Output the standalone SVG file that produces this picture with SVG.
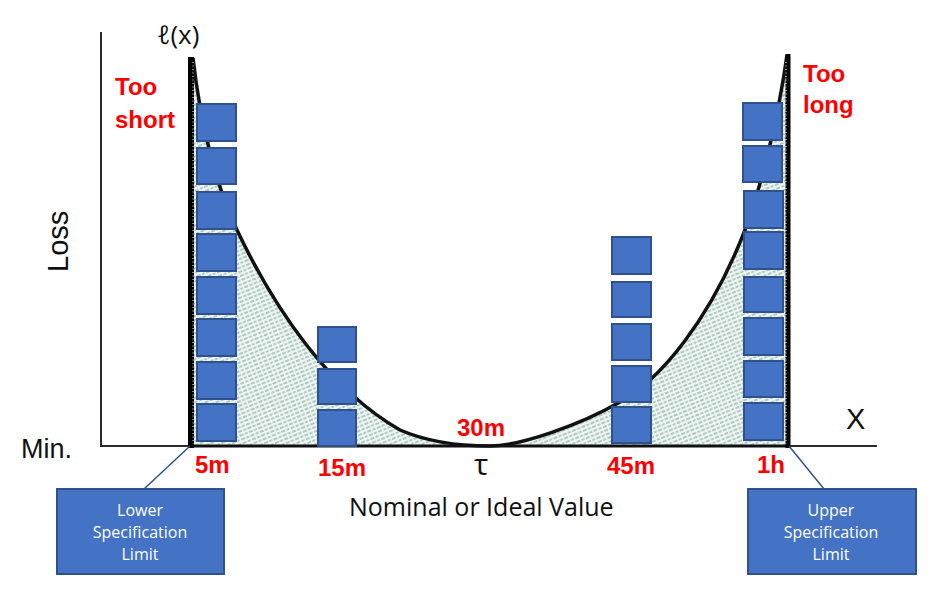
<svg xmlns="http://www.w3.org/2000/svg" width="938" height="594" viewBox="0 0 938 594">
  <defs>
    <pattern id="hatch" patternUnits="userSpaceOnUse" width="10" height="4" patternTransform="rotate(-22)">
      <rect width="10" height="4" fill="#eef5f2"/>
      <line x1="0" y1="2" x2="10" y2="2" stroke="#6f9e8c" stroke-width="1.2" stroke-dasharray="3 1.5"/>
    </pattern>
    <style>
      .box { fill: #4472C4; stroke: #2F528F; stroke-width: 2; }
      .red { font-family: "Liberation Sans", Arial, sans-serif; font-weight: bold; font-size: 24px; fill: #FF0000; }
      .blk { font-family: "Liberation Sans", Arial, sans-serif; fill: #111; }
      .cal { font-family: "Open Sans", "Liberation Sans", sans-serif; fill: #111; }
      .wt { font-family: "Open Sans", "Liberation Sans", sans-serif; font-size: 16px; fill: #ffffff; text-anchor: middle; }
      .axis { stroke: #2a2a2a; stroke-width: 2; fill: none; }
      .conn { stroke: #2F528F; stroke-width: 1.5; fill: none; }
    </style>
  </defs>
  <rect width="938" height="594" fill="#ffffff"/>

  <!-- loss area under curve -->
  <g id="loss-area">
    <path d="M191,58 L193,58 C200,120 215,184 237,230 C275,310 330,390 400,430 C430,443 460,446 490,446 C520,446 580,425 620,402 C660,380 710,320 745,230 C760,190 778,120 787,55 L788,446 L191,446 Z" fill="url(#hatch)" stroke="none"/>
    <path d="M193,58 C200,120 215,184 237,230 C275,310 330,390 400,430 C430,443 460,446 490,446 C520,446 580,425 620,402 C660,380 710,320 745,230 C760,190 778,120 787,55" fill="none" stroke="#111" stroke-width="3.5"/>
  </g>

  <!-- axes -->
  <g id="axes">
    <line class="axis" x1="101" y1="32" x2="101" y2="447"/>
    <line class="axis" x1="100" y1="446" x2="877" y2="446"/>
    <line x1="191" y1="446" x2="788" y2="446" stroke="#111" stroke-width="3"/>
    <line x1="191" y1="57" x2="191" y2="448" stroke="#000" stroke-width="6"/>
    <line x1="193" y1="62" x2="193" y2="444" stroke="#fff" stroke-width="1" stroke-dasharray="1 2.5"/>
    <line x1="788" y1="54" x2="788" y2="448" stroke="#000" stroke-width="5"/>
    <line x1="786" y1="62" x2="786" y2="444" stroke="#fff" stroke-width="1" stroke-dasharray="1 2.5"/>
  </g>

  <!-- stacks of blocks -->
  <g id="stack-5m">
    <rect class="box" x="197" y="104" width="39" height="37"/>
    <rect class="box" x="197" y="148" width="39" height="36"/>
    <rect class="box" x="197" y="192" width="39" height="37"/>
    <rect class="box" x="197" y="234" width="39" height="37"/>
    <rect class="box" x="197" y="277" width="39" height="37"/>
    <rect class="box" x="197" y="319" width="39" height="37"/>
    <rect class="box" x="197" y="362" width="39" height="37"/>
    <rect class="box" x="197" y="404" width="39" height="37"/>
  </g>
  <g id="stack-15m">
    <rect class="box" x="318" y="327" width="38" height="35"/>
    <rect class="box" x="318" y="369" width="38" height="35"/>
    <rect class="box" x="318" y="410" width="38" height="36"/>
  </g>
  <g id="stack-45m">
    <rect class="box" x="612" y="237" width="39" height="37"/>
    <rect class="box" x="612" y="282" width="39" height="35"/>
    <rect class="box" x="612" y="324" width="39" height="36"/>
    <rect class="box" x="612" y="366" width="39" height="36"/>
    <rect class="box" x="612" y="407" width="39" height="36"/>
  </g>
  <g id="stack-1h">
    <rect class="box" x="743" y="103" width="39" height="37"/>
    <rect class="box" x="743" y="146" width="39" height="36"/>
    <rect class="box" x="744" y="191" width="39" height="37"/>
    <rect class="box" x="744" y="232" width="39" height="37"/>
    <rect class="box" x="744" y="277" width="39" height="35"/>
    <rect class="box" x="744" y="318" width="39" height="37"/>
    <rect class="box" x="744" y="361" width="39" height="36"/>
    <rect class="box" x="744" y="403" width="39" height="37"/>
  </g>

  <!-- connectors -->
  <g id="connectors">
    <line class="conn" x1="144" y1="489" x2="190" y2="446"/>
    <line class="conn" x1="824" y1="489" x2="789" y2="446"/>
  </g>

  <!-- spec limit nodes -->
  <g id="lower-spec">
    <rect class="box" x="57" y="489" width="167" height="85"/>
    <text class="wt" x="140" y="516">Lower</text>
    <text class="wt" x="140" y="538">Specification</text>
    <text class="wt" x="140" y="560">Limit</text>
  </g>
  <g id="upper-spec">
    <rect class="box" x="748" y="489" width="168" height="85"/>
    <text class="wt" x="831" y="516">Upper</text>
    <text class="wt" x="831" y="538">Specification</text>
    <text class="wt" x="831" y="560">Limit</text>
  </g>

  <!-- labels -->
  <g id="labels">
    <text class="cal" x="157" y="44" font-size="26">ℓ(x)</text>
    <text class="red" x="115" y="95">Too</text>
    <text class="red" x="115" y="128">short</text>
    <text class="red" x="803" y="82">Too</text>
    <text class="red" x="803" y="113">long</text>
    <text class="blk" x="68" y="272" font-size="29" transform="rotate(-90 68 272)">Loss</text>
    <text class="blk" x="21" y="458" font-size="27">Min.</text>
    <text class="blk" x="846" y="429" font-size="29">X</text>
    <text class="red" x="195" y="473">5m</text>
    <text class="red" x="318" y="476">15m</text>
    <text class="red" x="457" y="436">30m</text>
    <text class="red" x="607" y="474">45m</text>
    <text class="red" x="757" y="473">1h</text>
    <text class="cal" x="474" y="475" font-size="30">τ</text>
    <text class="cal" x="349" y="516" font-size="25">Nominal or Ideal Value</text>
  </g>
</svg>
